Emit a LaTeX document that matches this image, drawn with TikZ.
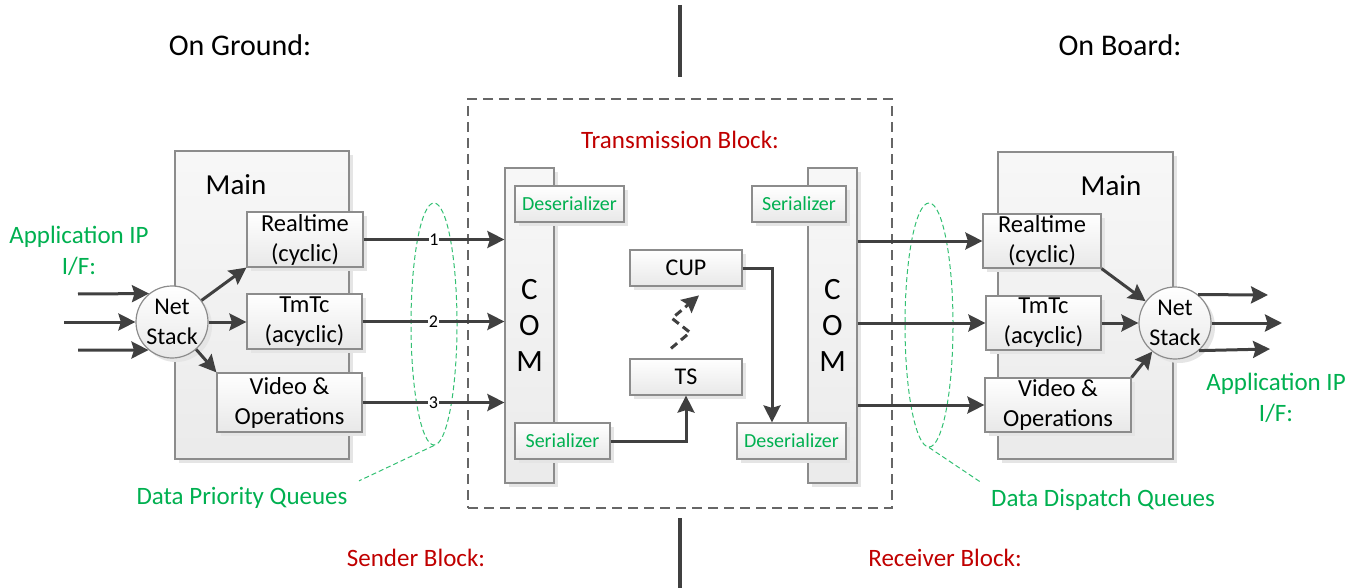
\documentclass[tikz,border=0pt]{standalone}
\usepackage{fontspec}
\setmainfont{Carlito}
\usetikzlibrary{arrows.meta,shapes.geometric,shadows,calc}
\definecolor{okgreen}{HTML}{00B050}
\definecolor{okred}{HTML}{C00000}
\definecolor{ink}{HTML}{404040}
\definecolor{edge}{HTML}{8C8C8C}
\newcommand\fsz[2]{\fontsize{#1}{#2}\selectfont}
\tikzset{
  shade box/.style={draw=edge, line width=1.2pt, top color=white, bottom color=black!9,
    drop shadow={shadow xshift=4pt, shadow yshift=-4pt, opacity=1, fill=black!10}},
  panel/.style={shade box, top color=black!3, bottom color=black!8, inner sep=0pt},
  box/.style={shade box, align=center, inner sep=0pt, font=\fsz{24.5}{30}},
  serbox/.style={box, text=okgreen, font=\fsz{20}{24}},
  combar/.style={panel, align=center, font=\fsz{31}{36}},
  netcirc/.style={shade box, circle, minimum size=72pt, inner sep=-6pt, align=center, font=\fsz{24}{30}},
  arr/.style={draw=ink, line width=3pt, -{Stealth[length=17pt,width=17pt,inset=2.5pt]}},
  dasharr/.style={arr, dash pattern=on 8pt off 5pt},
  num/.style={fill=white, inner sep=0.6pt, font=\fsz{18}{20}},
  queue/.style={ellipse, draw=okgreen!80, line width=1pt, dash pattern=on 5pt off 3pt, inner sep=0pt},
  qline/.style={draw=okgreen!80, line width=1pt, dash pattern=on 5pt off 3pt},
  tbox/.style={draw=black!60, line width=1.6pt, dash pattern=on 10pt off 6pt},
  sepline/.style={draw=ink, line width=3.2pt},
  heading/.style={font=\fsz{30}{34}},
  redlbl/.style={text=okred, font=\fsz{25}{30}},
  greenlbl/.style={text=okgreen, align=center, font=\fsz{25}{31}},
  mainlbl/.style={font=\fsz{29}{32}}
}
\begin{document}
\begin{tikzpicture}[x=1pt,y=-1pt]
\useasboundingbox (0,0) rectangle (1359,588);

% ground / board separator
\coordinate (sepTa) at (680,5);
\coordinate (sepTb) at (680,77);
\coordinate (sepBa) at (680,518);
\coordinate (sepBb) at (680,588);
\draw[sepline] (sepTa) -- (sepTb);
\draw[sepline] (sepBa) -- (sepBb);

% headings
\node[heading] (hGround) at (240,45) {On Ground:};
\node[heading] (hBoard) at (1120,45) {On Board:};
\node[redlbl] (hSender) at (416,558) {Sender Block:};
\node[redlbl] (hReceiver) at (945,558) {Receiver Block:};

% transmission block
\node[tbox, minimum width=424pt, minimum height=409pt] (trans) at (680,303.5) {};
\node[redlbl] (hTrans) at (680,140) {Transmission Block:};

% queues
\node[queue, minimum width=46pt, minimum height=242pt] (qL) at (434,324) {};
\node[queue, minimum width=48pt, minimum height=244pt] (qR) at (929,325) {};
\node[greenlbl] (qLlbl) at (242,498) {Data Priority Queues};
\node[greenlbl] (qRlbl) at (1103,500) {Data Dispatch Queues};
\draw[qline] (qL.south) -- ([shift={(8,-3)}]qLlbl.north east);
\draw[qline] (qR.south) -- ([shift={(-6,-3)}]qRlbl.north west);

% sender side
\node[panel, minimum width=174pt, minimum height=308pt] (mainL) at (262,305) {};
\node[mainlbl] (mainLlbl) at (236,185) {Main};
\node[netcirc] (netL) at (172,322) {Net\\Stack};
\node[box, minimum width=116pt, minimum height=55pt] (realL) at (305,239.5) {Realtime\\(cyclic)};
\node[box, minimum width=115pt, minimum height=55pt] (tmtcL) at (304.5,321.5) {TmTc\\(acyclic)};
\node[box, minimum width=145pt, minimum height=59pt] (videoL) at (289.5,402.5) {Video \&\\Operations};
\node[greenlbl] (appL) at (79,251) {Application IP\\I/F:};

\coordinate (inL1) at (78,294);
\coordinate (inL2) at (64,322);
\coordinate (inL3) at (78,350);
\draw[arr] (inL1) -- (netL.129.5);
\draw[arr] (inL2) -- (netL.west);
\draw[arr] (inL3) -- (netL.230.5);
\draw[arr] (netL) -- (realL.south west);
\draw[arr] (netL.east) -- (netL.east -| tmtcL.west);
\draw[arr] (netL) -- (videoL.north west);

% communication blocks
\node[combar, minimum width=49pt, minimum height=315pt] (comL) at (529.5,325.5) {C\\O\\M};
\node[serbox, minimum width=109pt, minimum height=36pt] (desL) at (569.5,204) {Deserializer};
\node[serbox, minimum width=95pt, minimum height=36pt] (serL) at (562.5,441) {Serializer};
\node[combar, minimum width=49pt, minimum height=315pt] (comR) at (832.5,325.5) {C\\O\\M};
\node[serbox, minimum width=94pt, minimum height=36pt] (serR) at (799,204) {Serializer};
\node[serbox, minimum width=109pt, minimum height=36pt] (desR) at (791.5,441) {Deserializer};
\node[box, minimum width=112pt, minimum height=36pt, font=\fsz{24}{28}] (cup) at (686,268) {CUP};
\node[box, minimum width=112pt, minimum height=36pt, font=\fsz{24}{28}] (ts) at (686,377) {TS};

\draw[arr] (serL.east) -| (ts.south);
\draw[arr] (cup.east) -| ([xshift=-19.5pt]desR.north);
\draw[dasharr] ([shift={(-15,-10)}]ts.north) -- ++(19,-16) -- ++(-18,-14) -- ++(27,-23);

% priority channels
\draw[arr] (realL.east) -- node[num] {1} (realL.east -| comL.west);
\draw[arr] (tmtcL.east) -- node[num] {2} (tmtcL.east -| comL.west);
\draw[arr] (videoL.east) -- node[num] {3} (videoL.east -| comL.west);

% receiver side
\node[panel, minimum width=175pt, minimum height=307pt] (mainR) at (1085.5,305.5) {};
\node[mainlbl] (mainRlbl) at (1111,186) {Main};
\node[box, minimum width=118pt, minimum height=54pt] (realR) at (1042,241) {Realtime\\(cyclic)};
\node[box, minimum width=115pt, minimum height=54pt] (tmtcR) at (1043.5,323) {TmTc\\(acyclic)};
\node[box, minimum width=146pt, minimum height=54pt] (videoR) at (1058,405) {Video \&\\Operations};
\node[netcirc] (netR) at (1175,323) {Net\\Stack};
\node[greenlbl] (appR) at (1276,398) {Application IP\\I/F:};

\draw[arr] (comR.east |- realR.west) -- (realR.west);
\draw[arr] (comR.east |- tmtcR.west) -- (tmtcR.west);
\draw[arr] (comR.east |- videoR.west) -- (videoR.west);
\draw[arr] (realR.south east) -- (netR);
\draw[arr] (tmtcR.east) -- (netR.west);
\draw[arr] (videoR.north east) -- (netR);

\coordinate (outR1) at (1268,295);
\coordinate (outR2) at (1282,323);
\coordinate (outR3) at (1270,349);
\draw[arr] (netR.51.5) -- (outR1);
\draw[arr] (netR.east) -- (outR2);
\draw[arr] (netR.-49) -- (outR3);
\end{tikzpicture}
\end{document}
